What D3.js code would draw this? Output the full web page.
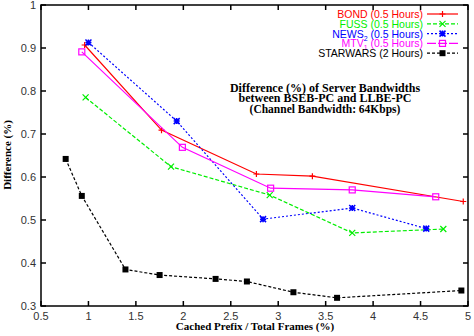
<!DOCTYPE html>
<html><head><meta charset="utf-8">
<script src="https://cdn.jsdelivr.net/npm/d3@7"></script>
<style>body{margin:0;background:#fff}svg{display:block}</style>
</head><body>
<script>
const xTicks = [0.5,1,1.5,2,2.5,3,3.5,4,4.5,5];
const yTicks = [0.3,0.4,0.5,0.6,0.7,0.8,0.9,1];
const bondX = [0.96,1.77,2.77,3.36,4.95];
const bondY = [0.907,0.709,0.607,0.602,0.543];
const fussX = [0.97,1.87,2.91,3.78,4.74];
const fussY = [0.785,0.624,0.558,0.470,0.479];
const newsX = [1.0,1.93,2.84,3.78,4.56];
const newsY = [0.913,0.730,0.502,0.528,0.480];
const mtvX = [0.93,1.99,2.92,3.78,4.66];
const mtvY = [0.891,0.669,0.574,0.570,0.554];
const starX = [0.76,0.93,1.39,1.75,2.34,2.67,3.16,3.62,4.93];
const starY = [0.642,0.556,0.385,0.372,0.363,0.357,0.332,0.319,0.336];

const series = [
  {name:"BOND", sub:"", tail:" (0.5 Hours)", x:bondX, y:bondY, color:"#ff0000", dash:null, ldash:null, marker:"plus"},
  {name:"FUSS", sub:"", tail:" (0.5 Hours)", x:fussX, y:fussY, color:"#00ee00", dash:"4,2", ldash:"4,2", marker:"cross"},
  {name:"NEWS", sub:"2", tail:" (0.5 Hours)", x:newsX, y:newsY, color:"#0000ff", dash:"2,2", ldash:"2,2", marker:"star"},
  {name:"MTV", sub:"1", tail:" (0.5 Hours)", x:mtvX, y:mtvY, color:"#ff00ff", dash:null, ldash:"9,2", marker:"square"},
  {name:"STARWARS", sub:"", tail:" (2 Hours)", x:starX, y:starY, color:"#000000", dash:"3,2", ldash:"3,2", marker:"fsquare"}
];

const W=474,H=336, L=41,R=468,T=5,B=306;
const svg = d3.select("body").append("svg").attr("width",W).attr("height",H);
const x = d3.scaleLinear().domain([0.5,5]).range([L,R]);
const y = d3.scaleLinear().domain([0.3,1]).range([B,T]);

const tickCol="#333", fs="11px", sans="'Liberation Sans', Arial, sans-serif", serif="'Liberation Serif','Times New Roman',serif";

const g = svg.append("g");
const tl=5;
xTicks.forEach(v=>{
  g.append("line").attr("x1",x(v)).attr("x2",x(v)).attr("y1",B).attr("y2",B-tl).attr("stroke","#000").attr("stroke-width",1.5);
  g.append("line").attr("x1",x(v)).attr("x2",x(v)).attr("y1",T).attr("y2",T+tl).attr("stroke","#000").attr("stroke-width",1.5);
  g.append("text").attr("x",x(v)).attr("y",B+14).attr("text-anchor","middle").attr("font-family",sans).attr("font-size",fs).attr("fill",tickCol).text(d3.format("")(v));
});
yTicks.forEach(v=>{
  g.append("line").attr("x1",L).attr("x2",L+tl).attr("y1",y(v)).attr("y2",y(v)).attr("stroke","#000").attr("stroke-width",1.5);
  g.append("line").attr("x1",R).attr("x2",R-tl).attr("y1",y(v)).attr("y2",y(v)).attr("stroke","#000").attr("stroke-width",1.5);
  g.append("text").attr("x",L-5).attr("y",y(v)+4).attr("text-anchor","end").attr("font-family",sans).attr("font-size",fs).attr("fill",tickCol).text(d3.format("")(v));
});
g.append("rect").attr("x",L).attr("y",T).attr("width",R-L).attr("height",B-T).attr("fill","none").attr("stroke","#000").attr("stroke-width",1.5);

function marker(sel, type, cx, cy, color){
  const s=3;
  if(type==="plus"){
    sel.append("path").attr("d",`M${cx-s},${cy}H${cx+s}M${cx},${cy-s}V${cy+s}`).attr("stroke",color).attr("stroke-width",1.2);
  } else if(type==="cross"){
    sel.append("path").attr("d",`M${cx-s},${cy-s}L${cx+s},${cy+s}M${cx-s},${cy+s}L${cx+s},${cy-s}`).attr("stroke",color).attr("stroke-width",1.2);
  } else if(type==="star"){
    sel.append("path").attr("d",`M${cx-s},${cy-s}L${cx+s},${cy+s}M${cx-s},${cy+s}L${cx+s},${cy-s}M${cx-s},${cy}H${cx+s}M${cx},${cy-s}V${cy+s}`).attr("stroke",color).attr("stroke-width",1.5);
  } else if(type==="square"){
    sel.append("rect").attr("x",cx-s).attr("y",cy-s).attr("width",2*s).attr("height",2*s).attr("fill","none").attr("stroke",color).attr("stroke-width",1.2);
  } else {
    sel.append("rect").attr("x",cx-s).attr("y",cy-s).attr("width",2*s).attr("height",2*s).attr("fill",color);
  }
}

const line = d3.line().x(d=>x(d[0])).y(d=>y(d[1]));
series.forEach(s=>{
  const pts = s.x.map((v,i)=>[v,s.y[i]]);
  const p = g.append("path").attr("d",line(pts)).attr("fill","none").attr("stroke",s.color).attr("stroke-width",1.2);
  if(s.dash) p.attr("stroke-dasharray",s.dash);
  pts.forEach(d=>marker(g,s.marker,x(d[0]),y(d[1]),s.color));
});

// legend
const lx=423, ly0=14, ldy=9.8;
series.forEach((s,i)=>{
  const yy=ly0+i*ldy;
  const t=g.append("text").attr("x",lx).attr("y",yy+4).attr("text-anchor","end").attr("font-family",sans).attr("font-size","10.5px").attr("fill",s.color);
  t.append("tspan").text(s.name);
  if(s.sub){ t.append("tspan").attr("font-size","7px").attr("dy",3).text(s.sub); t.append("tspan").attr("dy",-3).text(s.tail); }
  else t.append("tspan").text(s.tail);
  const p=g.append("line").attr("x1",lx+4).attr("x2",lx+35).attr("y1",yy).attr("y2",yy).attr("stroke",s.color).attr("stroke-width",1.2);
  if(s.ldash) p.attr("stroke-dasharray",s.ldash);
  marker(g,s.marker,lx+19.5,yy,s.color);
});

// title
const tt=[["Difference (%) of Server Bandwidths",92,"12px"],["between BSEB-PC and LLBE-PC",102,"12px"],["(Channel Bandwidth: 64Kbps)",112.5,"11.5px"]];
tt.forEach(d=>g.append("text").attr("x",325).attr("y",d[1]).attr("text-anchor","middle").attr("font-family",serif).attr("font-weight","bold").attr("font-size",d[2]).text(d[0]));

// axis labels
g.append("text").attr("x",255).attr("y",330).attr("text-anchor","middle").attr("font-family",serif).attr("font-weight","bold").attr("font-size","11px").text("Cached Prefix / Total Frames (%)");
g.append("text").attr("transform","translate(11,155) rotate(-90)").attr("text-anchor","middle").attr("font-family",serif).attr("font-weight","bold").attr("font-size","11px").text("Difference (%)");
</script>
</body></html>
